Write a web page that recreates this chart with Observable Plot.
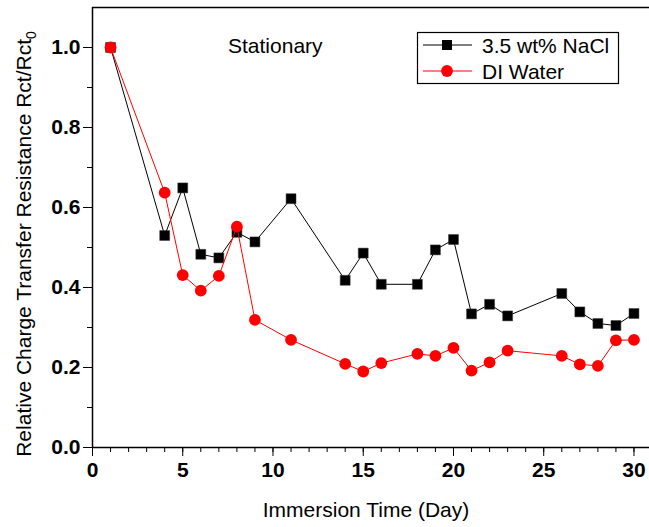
<!DOCTYPE html>
<html>
<head>
<meta charset="utf-8">
<script src="https://cdn.jsdelivr.net/npm/d3@7"></script>
<script src="https://cdn.jsdelivr.net/npm/@observablehq/plot@0.6"></script>
<style>
  html, body { margin: 0; padding: 0; background: white; }
  #chart { position: relative; width: 649px; height: 527px; }
  svg { font-family: "Liberation Sans", Arial, sans-serif; }
</style>
</head>
<body>
<div id="chart"></div>
<script>
// ---- data ----
const days = [1, 4, 5, 6, 7, 8, 9, 11, 14, 15, 16, 18, 19, 20, 21, 22, 23, 26, 27, 28, 29, 30];
const nacl = [1.0, 0.530, 0.649, 0.483, 0.474, 0.538, 0.514, 0.622, 0.418, 0.486, 0.408, 0.408, 0.494, 0.520, 0.334, 0.358, 0.329, 0.385, 0.339, 0.310, 0.305, 0.335];
const diWater = [1.0, 0.637, 0.431, 0.392, 0.429, 0.552, 0.319, 0.269, 0.209, 0.190, 0.211, 0.234, 0.229, 0.249, 0.192, 0.213, 0.242, 0.229, 0.208, 0.204, 0.268, 0.269];
const seriesNames = ["3.5 wt% NaCl", "DI Water"];
const xMajorTicks = [0, 5, 10, 15, 20, 25, 30];
const xMinorTicks = d3.range(0, 31, 1);
const yMajorTicks = [0, 0.2, 0.4, 0.6, 0.8, 1.0];
const yMinorTicks = [0.1, 0.3, 0.5, 0.7, 0.9];
const annotation = "Stationary";
const xLabel = "Immersion Time (Day)";
const yLabel = "Relative Charge Transfer Resistance Rct/Rct";
const yLabelSub = "0";

const naclData = days.map((d, i) => ({day: d, value: nacl[i]}));
const waterData = days.map((d, i) => ({day: d, value: diWater[i]}));

const FONT = "Liberation Sans, Arial, sans-serif";
const empty = () => "";

const plot = Plot.plot({
  width: 649,
  height: 527,
  marginTop: 7,
  marginRight: 0,
  marginBottom: 80,
  marginLeft: 92,
  style: {fontFamily: FONT, fontSize: "21px", color: "black", background: "white"},
  x: {domain: [0, 30.86], label: null},
  y: {domain: [0, 1.1], label: null},
  marks: [
    Plot.axisX({ticks: xMinorTicks, tickSize: 5, tickFormat: empty, label: null}),
    Plot.axisX({ticks: xMajorTicks, tickSize: 9, tickPadding: 6, fontWeight: "bold", fontSize: 21, label: null}),
    Plot.axisY({ticks: yMinorTicks, tickSize: 5, tickFormat: empty, label: null}),
    Plot.axisY({ticks: yMajorTicks, tickSize: 9, tickPadding: 3, tickFormat: d3.format(".1f"), fontWeight: "bold", fontSize: 21, label: null}),
    Plot.ruleY([0], {stroke: "black", strokeWidth: 1.5}),
    Plot.ruleY([1.1], {stroke: "black", strokeWidth: 1.5}),
    Plot.ruleX([0], {stroke: "black", strokeWidth: 1.5}),
    Plot.line(naclData, {x: "day", y: "value", stroke: "black", strokeWidth: 1}),
    Plot.dot(naclData, {x: "day", y: "value", symbol: "square", r: 5.6, fill: "black", stroke: "#333", strokeWidth: 0.5}),
    Plot.line(waterData, {x: "day", y: "value", stroke: "#ff0000", strokeWidth: 1}),
    Plot.dot(waterData, {x: "day", y: "value", symbol: "circle", r: 5.9, fill: "#ff0000"})
  ]
});

document.getElementById("chart").appendChild(plot);

// ---- overlays: titles, legend ----
const svg = d3.select(plot);

// y label with subscript
const yl = svg.append("text")
  .attr("transform", "translate(31,244) rotate(-90)")
  .attr("text-anchor", "middle")
  .attr("font-family", FONT)
  .attr("font-size", 21)
  .attr("fill", "black");
yl.append("tspan").text(yLabel);
yl.append("tspan").attr("font-size", 14).attr("dy", 5).text(yLabelSub);

// x label
svg.append("text")
  .attr("x", 366).attr("y", 517)
  .attr("text-anchor", "middle")
  .attr("font-family", FONT)
  .attr("font-size", 21)
  .attr("fill", "black")
  .text(xLabel);

// annotation
svg.append("text")
  .attr("x", 228).attr("y", 53)
  .attr("text-anchor", "start")
  .attr("font-family", FONT)
  .attr("font-size", 21)
  .attr("fill", "black")
  .text(annotation);

// legend
const lg = svg.append("g");
lg.append("rect").attr("x", 417.5).attr("y", 32.5).attr("width", 201).attr("height", 51)
  .attr("fill", "white").attr("stroke", "black").attr("stroke-width", 1.2);
const rows = [
  {name: seriesNames[0], color: "black", y: 45, shape: "square"},
  {name: seriesNames[1], color: "#ff0000", y: 71, shape: "circle"}
];
rows.forEach(r => {
  lg.append("line").attr("x1", 423).attr("x2", 472).attr("y1", r.y).attr("y2", r.y)
    .attr("stroke", r.color).attr("stroke-width", 1);
  if (r.shape === "square") {
    lg.append("rect").attr("x", 442).attr("y", r.y - 5).attr("width", 10).attr("height", 10).attr("fill", "black");
  } else {
    lg.append("circle").attr("cx", 447).attr("cy", r.y).attr("r", 5.9).attr("fill", r.color);
  }
  lg.append("text").attr("x", 482).attr("y", r.y + 7.5)
    .attr("text-anchor", "start")
    .attr("font-family", FONT).attr("font-size", 21).attr("fill", "black")
    .text(r.name);
});
</script>
</body>
</html>
